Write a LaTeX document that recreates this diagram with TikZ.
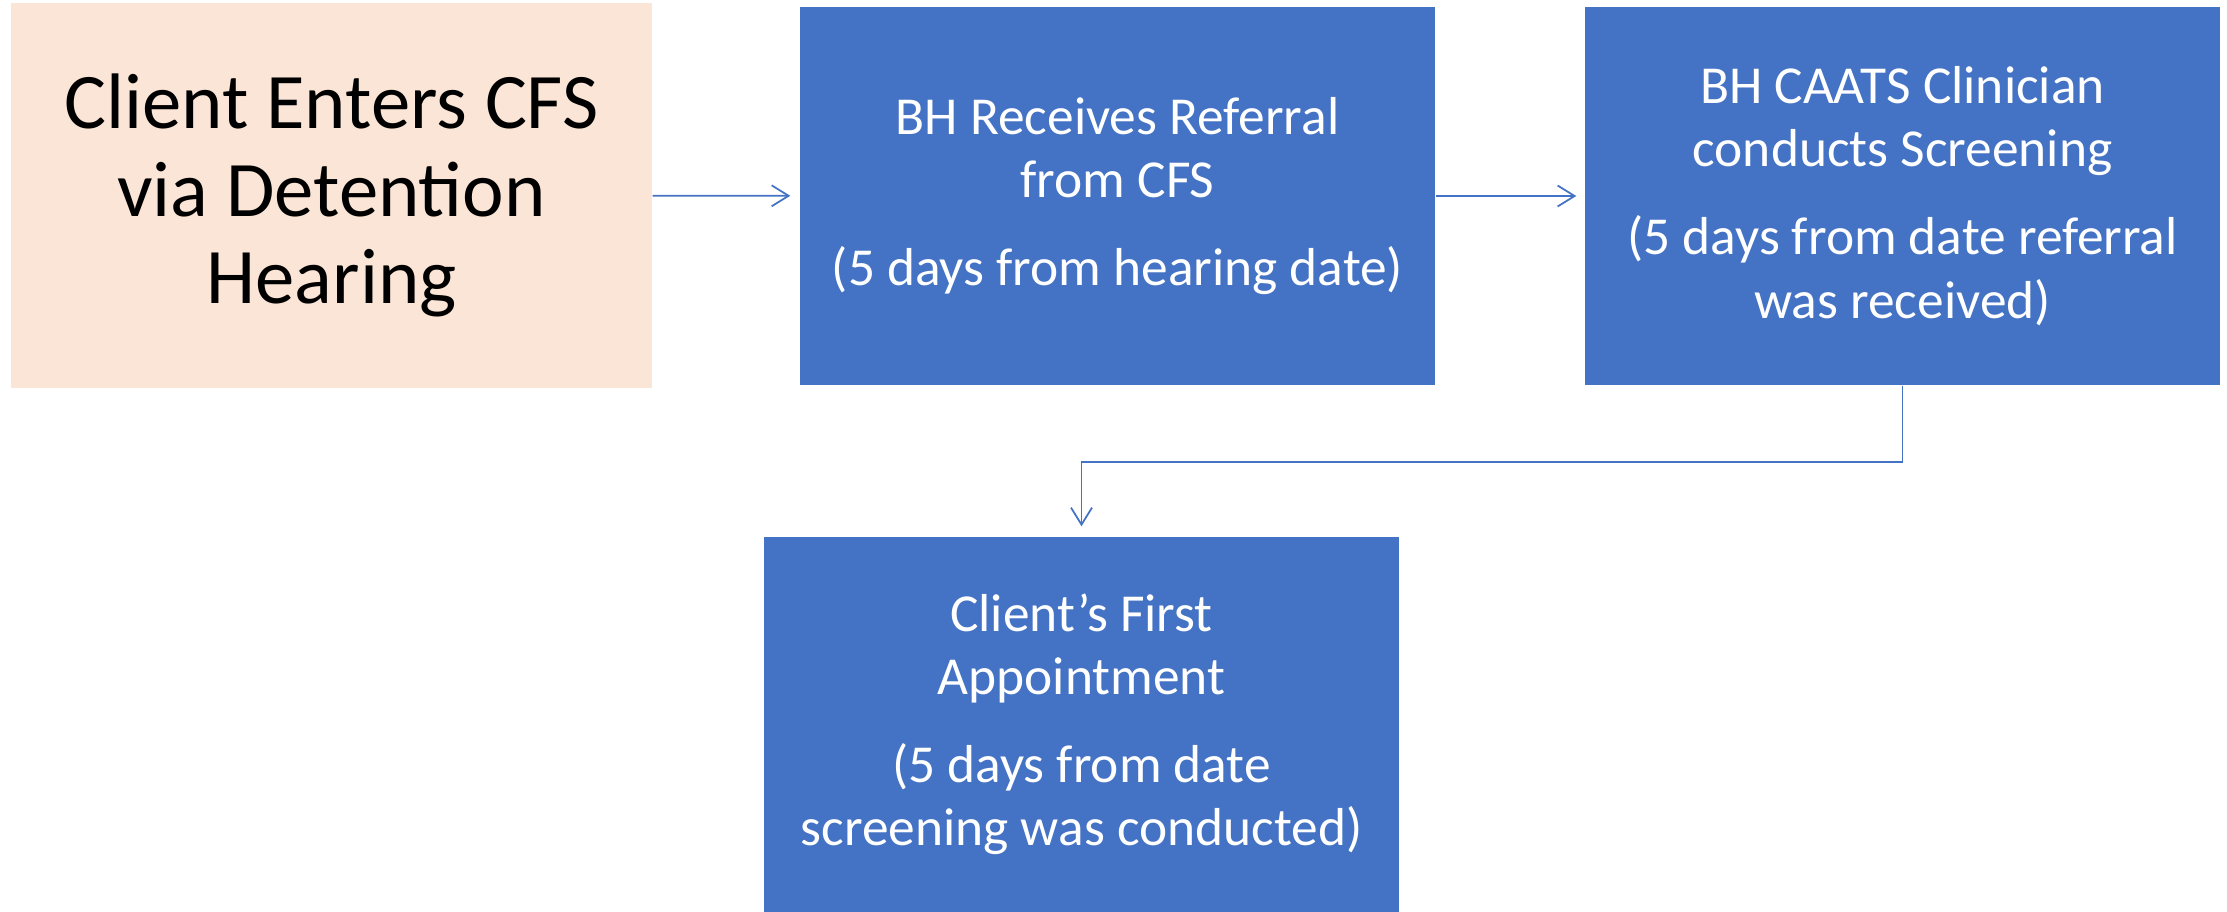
\documentclass[tikz,border=0pt]{standalone}
\usepackage{fontspec}
\setmainfont{Carlito}
\usepackage{tikz}
\usetikzlibrary{positioning,arrows.meta}
\usepackage{xcolor}
\definecolor{peach}{HTML}{FBE5D6}
\definecolor{officeblue}{HTML}{4472C4}
\tikzstyle{entry}=[rectangle, fill=peach, inner sep=0pt, minimum width=6.41cm, minimum height=3.85cm,
text centered, align=center, text=black, font=\fontsize{22.4}{25}\selectfont]
\tikzstyle{stage}=[rectangle, fill=officeblue, inner sep=0pt, minimum width=6.35cm, minimum height=3.78cm,
text centered, align=center, text=white, font=\fontsize{15.2}{18}\selectfont]
\tikzstyle{link}=[draw=officeblue, line width=0.5pt, -{Straight Barb[length=1.7mm,width=2.1mm]}]

\begin{document}
\begin{tikzpicture}
    \useasboundingbox (0,0) rectangle (22.27,-9.12);
        \node (1)[entry] at (3.315,-1.955)
            {Client Enters CFS\\via Detention\\Hearing};
        \node (2)[stage] at (11.175,-1.96)
            {BH Receives Referral\\from CFS\\[7pt](5 days from hearing date)};
        \node (3)[stage] at (19.025,-1.96)
            {BH CAATS Clinician\\conducts Screening\\[7pt](5 days from date referral\\was received)};
        \node (4)[stage, minimum height=3.75cm] at (10.815,-7.245)
            {Client’s First\\Appointment\\[7pt](5 days from date\\screening was conducted)};

        \draw [link, shorten >=0.09cm] (1) -- (2);
        \draw [link, shorten >=0.08cm] (2) -- (3);
        \draw [link, shorten >=0.1cm] (3.south) -- ++(0,-0.76) -| (4.north);
    \end{tikzpicture}
\end{document}
